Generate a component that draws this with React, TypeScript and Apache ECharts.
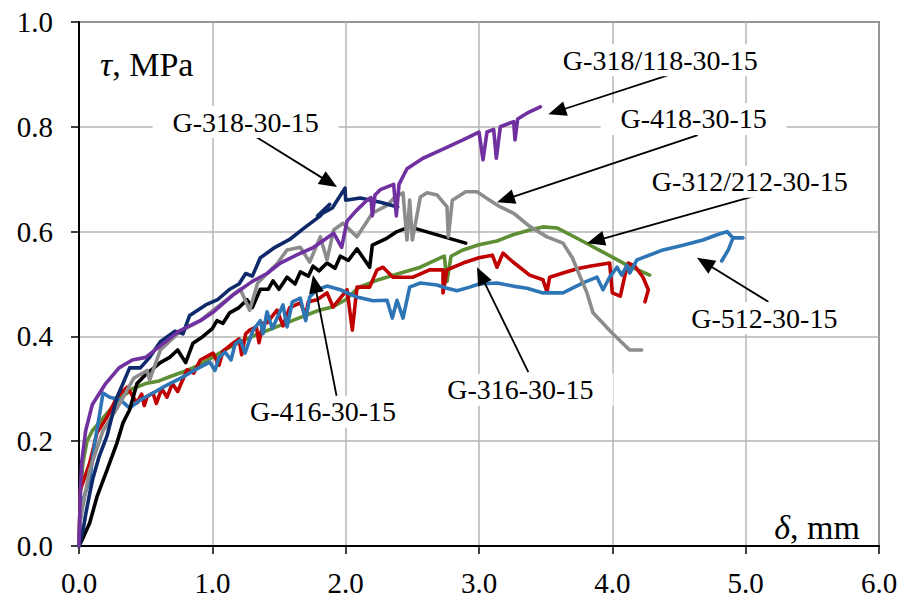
import React, { useEffect, useRef } from "react";
import * as echarts from "echarts";

// ---- data (δ in mm, τ in MPa) ----
const seriesNames = [
  "G-312/212-30-15",
  "G-316-30-15",
  "G-512-30-15",
  "G-416-30-15",
  "G-418-30-15",
  "G-318-30-15",
  "G-318/118-30-15",
];
const seriesColors = ["#5E8F35", "#C00000", "#2E75B6", "#000000", "#8C8C8C", "#0E2A6A", "#7030A0"];

const greenData = [
  [0, 0], [0.01, 0.1], [0.03, 0.16], [0.06, 0.2], [0.1, 0.22], [0.2, 0.25], [0.3, 0.28], [0.4, 0.3],
  [0.5, 0.31], [0.6, 0.315], [0.7, 0.325], [0.81, 0.335], [0.9, 0.345], [1.0, 0.36], [1.1, 0.375],
  [1.19, 0.387], [1.3, 0.4], [1.4, 0.41], [1.5, 0.42], [1.6, 0.43], [1.7, 0.44], [1.8, 0.45],
  [1.9, 0.456], [2.0, 0.47], [2.1, 0.494], [2.235, 0.507], [2.4, 0.52], [2.56, 0.532], [2.71, 0.55],
  [2.74, 0.553], [2.76, 0.505], [2.79, 0.553], [2.88, 0.565], [3.0, 0.575], [3.135, 0.582],
  [3.255, 0.594], [3.38, 0.603], [3.48, 0.609], [3.585, 0.607], [3.76, 0.584], [3.93, 0.561],
  [4.11, 0.536], [4.28, 0.517],
];

const redData = [
  [0, 0], [0.01, 0.107], [0.08, 0.158], [0.135, 0.216], [0.21, 0.246], [0.285, 0.284], [0.36, 0.303],
  [0.435, 0.273], [0.47, 0.29], [0.49, 0.268], [0.51, 0.285], [0.555, 0.292], [0.58, 0.272],
  [0.62, 0.3], [0.66, 0.284], [0.7, 0.31], [0.74, 0.295], [0.81, 0.336], [0.86, 0.33], [0.91, 0.355],
  [1.005, 0.368], [1.05, 0.345], [1.08, 0.372], [1.155, 0.387], [1.2, 0.395], [1.22, 0.365],
  [1.25, 0.405], [1.28, 0.412], [1.33, 0.418], [1.35, 0.388], [1.38, 0.425], [1.41, 0.426],
  [1.485, 0.45], [1.53, 0.42], [1.58, 0.455], [1.66, 0.464], [1.7, 0.44], [1.72, 0.466],
  [1.785, 0.47], [1.86, 0.483], [1.905, 0.456], [2.01, 0.489], [2.05, 0.412],
  [2.085, 0.494], [2.18, 0.494], [2.235, 0.527], [2.28, 0.532], [2.355, 0.513], [2.505, 0.513],
  [2.63, 0.527], [2.73, 0.527], [2.73, 0.483], [2.76, 0.527], [2.88, 0.54], [3.0, 0.55],
  [3.1, 0.555], [3.135, 0.532], [3.18, 0.559], [3.255, 0.542], [3.38, 0.517], [3.48, 0.508],
  [3.51, 0.485], [3.53, 0.513], [3.63, 0.521], [3.735, 0.529], [3.83, 0.534], [3.98, 0.54],
  [4.0, 0.483], [4.06, 0.477], [4.095, 0.517], [4.12, 0.54], [4.17, 0.534], [4.23, 0.513],
  [4.27, 0.489], [4.245, 0.466],
];

const blueData = [
  [0, 0], [0.01, 0.05], [0.03, 0.088], [0.08, 0.126], [0.12, 0.2], [0.16, 0.26], [0.18, 0.292],
  [0.23, 0.284], [0.31, 0.279], [0.38, 0.263], [0.46, 0.279], [0.555, 0.292], [0.645, 0.305],
  [0.76, 0.32], [0.87, 0.336], [0.98, 0.351], [1.02, 0.335], [1.05, 0.36], [1.095, 0.37],
  [1.14, 0.355], [1.17, 0.385], [1.21, 0.393], [1.245, 0.368], [1.305, 0.412], [1.36, 0.43],
  [1.38, 0.405], [1.41, 0.447], [1.45, 0.415], [1.53, 0.46], [1.56, 0.418], [1.6, 0.466],
  [1.66, 0.473], [1.7, 0.43], [1.73, 0.475], [1.785, 0.489], [1.86, 0.496], [1.96, 0.489],
  [2.085, 0.475], [2.205, 0.468], [2.31, 0.469],
  [2.35, 0.435], [2.385, 0.469], [2.43, 0.435], [2.48, 0.494], [2.56, 0.502], [2.685, 0.498],
  [2.76, 0.492], [2.835, 0.487], [2.93, 0.494], [3.0, 0.5], [3.135, 0.502], [3.255, 0.496],
  [3.36, 0.492], [3.48, 0.483], [3.63, 0.483], [3.78, 0.502], [3.885, 0.513], [3.93, 0.489],
  [3.98, 0.513], [4.035, 0.532], [4.07, 0.517], [4.11, 0.536], [4.13, 0.521], [4.185, 0.546],
  [4.38, 0.565], [4.53, 0.574], [4.68, 0.584], [4.785, 0.594], [4.86, 0.6], [4.905, 0.588],
  [4.98, 0.588], [4.905, 0.588], [4.87, 0.565], [4.82, 0.544],
];

const blackData = [
  [0, 0], [0.02, 0.01], [0.08, 0.044], [0.135, 0.094], [0.21, 0.145], [0.285, 0.197], [0.33, 0.235],
  [0.38, 0.26], [0.435, 0.31], [0.495, 0.326], [0.61, 0.35], [0.68, 0.36], [0.74, 0.374],
  [0.8, 0.35], [0.855, 0.387], [0.93, 0.4], [1.0, 0.415], [1.035, 0.43], [1.08, 0.425],
  [1.13, 0.445], [1.2, 0.455], [1.26, 0.47], [1.3, 0.455], [1.36, 0.49], [1.42, 0.49],
  [1.455, 0.506], [1.5, 0.49], [1.56, 0.513], [1.62, 0.5], [1.66, 0.523], [1.72, 0.515],
  [1.755, 0.534], [1.8, 0.525], [1.86, 0.54], [1.92, 0.53], [1.96, 0.553], [2.02, 0.545],
  [2.085, 0.567], [2.18, 0.532], [2.2, 0.574], [2.3, 0.586], [2.385, 0.6],
  [2.48, 0.609], [2.9, 0.578],
];

const grayData = [
  [0, 0], [0.01, 0.05], [0.08, 0.145], [0.18, 0.22], [0.29, 0.265], [0.41, 0.32], [0.51, 0.335],
  [0.53, 0.317], [0.61, 0.374], [0.76, 0.41], [0.91, 0.43], [1.035, 0.456], [1.21, 0.49],
  [1.28, 0.45], [1.34, 0.502], [1.49, 0.54], [1.56, 0.565], [1.66, 0.57], [1.73, 0.542],
  [1.81, 0.59], [1.86, 0.546], [1.91, 0.603], [1.98, 0.616], [2.085, 0.59], [2.2, 0.635],
  [2.31, 0.65], [2.37, 0.666], [2.43, 0.674], [2.46, 0.584], [2.48, 0.66], [2.5, 0.584],
  [2.56, 0.666], [2.61, 0.674], [2.685, 0.67], [2.76, 0.647], [2.77, 0.59], [2.8, 0.66],
  [2.9, 0.676], [2.985, 0.676], [3.08, 0.66], [3.16, 0.647], [3.26, 0.635], [3.38, 0.61],
  [3.51, 0.59], [3.63, 0.578], [3.7, 0.55], [3.76, 0.513], [3.81, 0.483], [3.855, 0.445],
  [4.0, 0.406], [4.13, 0.374], [4.22, 0.374],
];

const navyData = [
  [0, 0], [0.03, 0.03], [0.05, 0.06], [0.08, 0.1], [0.105, 0.13], [0.15, 0.17], [0.21, 0.21],
  [0.25, 0.25], [0.285, 0.284], [0.33, 0.31], [0.38, 0.34], [0.46, 0.34], [0.53, 0.36],
  [0.61, 0.39], [0.72, 0.41], [0.78, 0.405], [0.83, 0.44], [0.95, 0.46], [1.04, 0.47],
  [1.13, 0.49], [1.2, 0.5], [1.25, 0.52], [1.3, 0.515], [1.36, 0.55], [1.47, 0.57], [1.58, 0.585],
  [1.69, 0.607], [1.81, 0.63], [1.88, 0.652],
  [1.79, 0.63], [1.9, 0.645], [1.95, 0.665], [1.995, 0.683], [2.0, 0.66], [2.11, 0.664],
  [2.26, 0.656], [2.39, 0.647],
];

const purpleData = [
  [0, 0], [0.01, 0.1], [0.02, 0.16], [0.05, 0.22], [0.1, 0.27], [0.2, 0.31], [0.3, 0.34],
  [0.4, 0.355], [0.5, 0.36], [0.6, 0.38], [0.75, 0.41], [0.91, 0.43], [1.0, 0.445], [1.16, 0.48],
  [1.3, 0.505], [1.41, 0.52], [1.51, 0.54], [1.63, 0.555], [1.76, 0.57], [1.91, 0.597],
  [1.97, 0.57], [2.01, 0.62], [2.08, 0.64], [2.16, 0.66], [2.19, 0.665], [2.2, 0.63], [2.22, 0.67],
  [2.26, 0.68], [2.36, 0.69], [2.38, 0.63], [2.4, 0.69], [2.46, 0.72], [2.58, 0.74], [2.71, 0.755],
  [2.88, 0.775], [3.0, 0.79], [3.03, 0.737], [3.06, 0.79], [3.11, 0.795], [3.13, 0.74],
  [3.16, 0.8], [3.26, 0.81], [3.27, 0.775], [3.29, 0.815], [3.36, 0.826], [3.46, 0.838],
];

const allData = [greenData, redData, blueData, blackData, grayData, navyData, purpleData];

// ---- annotations (data coordinates) ----
const annTexts = [
  "G-318-30-15",
  "G-318/118-30-15",
  "G-418-30-15",
  "G-312/212-30-15",
  "G-512-30-15",
  "G-316-30-15",
  "G-416-30-15",
];
const annTextPos = [
  [1.25, 0.809], [4.36, 0.927], [4.61, 0.815], [5.03, 0.695], [5.14, 0.435], [3.31, 0.298], [1.83, 0.256],
];
const annTail = [
  [1.32, 0.782], [4.495, 0.905], [4.64, 0.784], [5.07, 0.668], [5.17, 0.466], [3.37, 0.332], [1.935, 0.282],
];
const annHead = [
  [1.935, 0.685], [3.52, 0.824], [3.135, 0.656], [3.81, 0.578], [4.635, 0.55], [2.985, 0.532], [1.755, 0.517],
];

const FONT = "Liberation Serif, Times New Roman, serif";

export default function App() {
  const ref = useRef<HTMLDivElement>(null);

  useEffect(() => {
    document.body.style.margin = "0";
    if (!ref.current) return;
    const chart = echarts.init(ref.current, undefined, { renderer: "svg" });

    const option: any = {
      animation: false,
      backgroundColor: "#ffffff",
      grid: {
        left: 79,
        top: 22,
        right: 27,
        bottom: 58,
        show: true,
        borderColor: "#000",
        borderWidth: 1.5,
      },
      xAxis: {
        type: "value",
        min: 0,
        max: 6,
        interval: 1,
        axisLine: { show: true, onZero: false, lineStyle: { color: "#000", width: 2 } },
        axisTick: { show: true, length: 8, lineStyle: { color: "#000", width: 1.5 } },
        splitLine: { show: true, lineStyle: { color: "#B4B4B4", width: 1.5 } },
        axisLabel: {
          color: "#000",
          fontFamily: FONT,
          fontSize: 29,
          margin: 22,
          formatter: (v: number) => v.toFixed(1),
        },
      },
      yAxis: {
        type: "value",
        min: 0,
        max: 1,
        interval: 0.2,
        axisLine: { show: true, onZero: false, lineStyle: { color: "#000", width: 2 } },
        axisTick: { show: true, length: 8, lineStyle: { color: "#000", width: 1.5 } },
        splitLine: { show: true, lineStyle: { color: "#B4B4B4", width: 1.5 } },
        axisLabel: {
          color: "#000",
          fontFamily: FONT,
          fontSize: 29,
          margin: 26,
          formatter: (v: number) => v.toFixed(1),
        },
      },
      series: allData.map((d, i) => ({
        name: seriesNames[i],
        type: "line",
        data: d,
        showSymbol: false,
        symbol: "none",
        z: 3 + i,
        lineStyle: { color: seriesColors[i], width: 3.6, join: "round", cap: "round" },
        itemStyle: { color: seriesColors[i] },
      })),
    };
    chart.setOption(option);

    const px = (p: number[]) => chart.convertToPixel({ gridIndex: 0 }, p) as number[];
    const graphics: any[] = [];

    annTexts.forEach((t, i) => {
      const tp = px(annTextPos[i]);
      const T = px(annTail[i]);
      const H = px(annHead[i]);
      const dx = H[0] - T[0];
      const dy = H[1] - T[1];
      const len = Math.sqrt(dx * dx + dy * dy);
      const ux = dx / len;
      const uy = dy / len;
      const L = 18;
      const W = 7.5;
      const bx = H[0] - ux * L;
      const by = H[1] - uy * L;
      graphics.push({
        type: "line",
        z: 50,
        shape: { x1: T[0], y1: T[1], x2: bx + ux * 2, y2: by + uy * 2 },
        style: { stroke: "#000", lineWidth: 1.8 },
      });
      graphics.push({
        type: "polygon",
        z: 50,
        shape: {
          points: [
            [H[0], H[1]],
            [bx - uy * W, by + ux * W],
            [bx + uy * W, by - ux * W],
          ],
        },
        style: { fill: "#000" },
      });
      graphics.push({
        type: "text",
        z: 60,
        x: tp[0],
        y: tp[1],
        style: {
          text: t,
          fill: "#000",
          fontFamily: FONT,
          fontSize: 28,
          align: "center",
          verticalAlign: "middle",
          backgroundColor: "#fff",
          padding: [2, 20],
        },
      });
    });

    graphics.push({
      type: "text",
      z: 60,
      x: 100,
      y: 64,
      style: {
        text: "{i|τ}, MPa",
        fill: "#000",
        fontFamily: FONT,
        fontSize: 34,
        align: "left",
        verticalAlign: "middle",
        rich: { i: { fontStyle: "italic", fontFamily: FONT, fontSize: 34, fill: "#000" } },
      },
    });
    graphics.push({
      type: "text",
      z: 60,
      x: 860,
      y: 527,
      style: {
        text: "{i|δ}, mm",
        fill: "#000",
        fontFamily: FONT,
        fontSize: 34,
        align: "right",
        verticalAlign: "middle",
        rich: { i: { fontStyle: "italic", fontFamily: FONT, fontSize: 34, fill: "#000" } },
      },
    });

    chart.setOption({ graphic: graphics });

    return () => {
      chart.dispose();
    };
  }, []);

  return <div ref={ref} style={{ width: 906, height: 604 }} />;
}
